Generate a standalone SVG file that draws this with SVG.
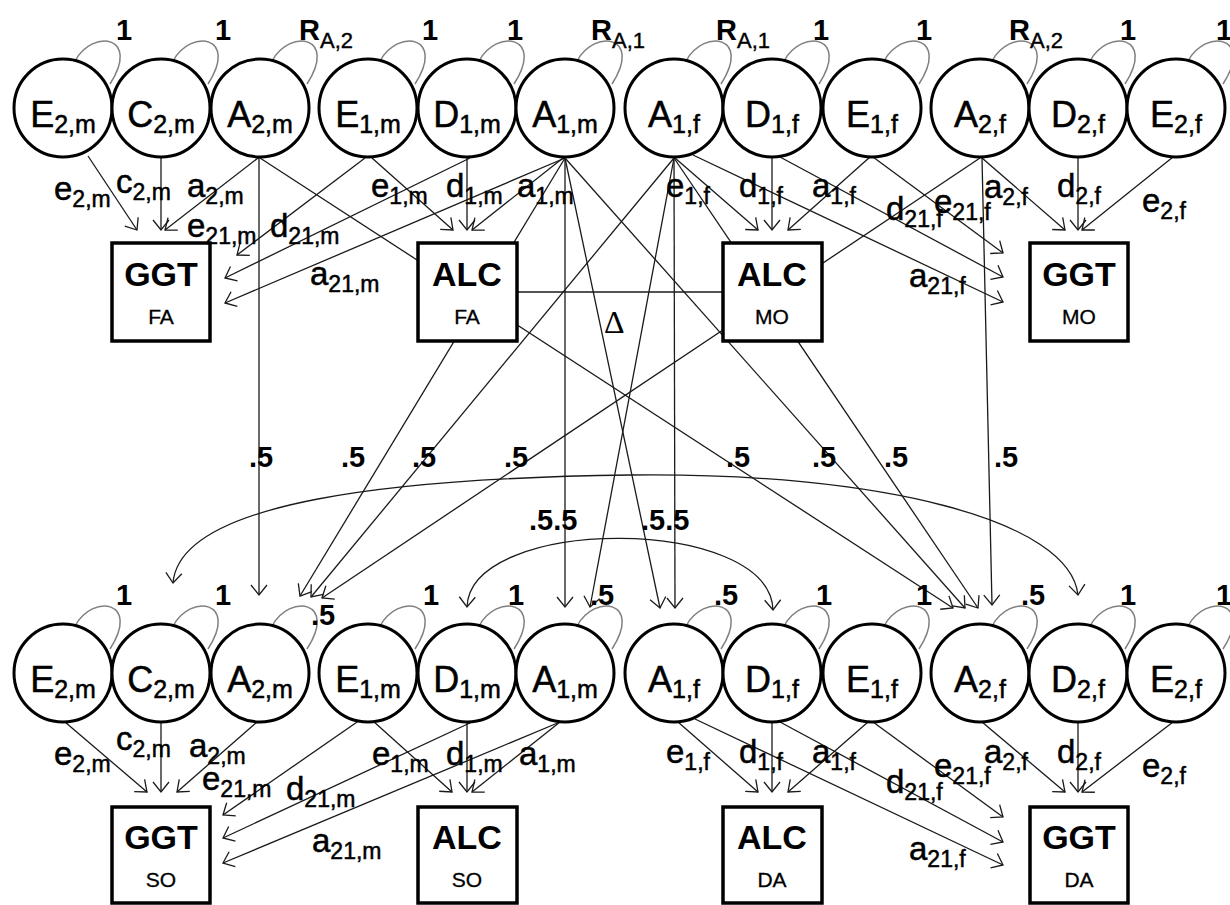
<svg xmlns="http://www.w3.org/2000/svg" xmlns:xlink="http://www.w3.org/1999/xlink" width="1230" height="905" viewBox="0 0 1230 905">
<style>
  .bg { fill: #ffffff; }
  .lat circle { fill: #ffffff; stroke: #000000; stroke-width: 3; }
  .obs rect { fill: #ffffff; stroke: #000000; stroke-width: 3.5; }
  .path { fill: none; stroke: #1a1a1a; stroke-width: 1.3; }
  .arr { marker-end: url(#head); }
  .loop { fill: none; stroke: #808080; stroke-width: 1.5; }
  text { font-family: "Liberation Sans", Arial, sans-serif; fill: #000000; }
  .nl { font-size: 36px; text-anchor: middle; stroke: #000000; stroke-width: 0.5; }
  .nl .s { font-size: 25px; }
  .bt { font-size: 34px; font-weight: bold; text-anchor: middle; }
  .bs { font-size: 21px; text-anchor: middle; stroke: #000000; stroke-width: 0.3; }
  .pl { font-size: 33px; stroke: #000000; stroke-width: 0.5; }
  .pl .s { font-size: 23px; }
  .vl { font-size: 29px; font-weight: bold; }
  .vl .s { font-size: 22px; font-weight: normal; stroke: #000000; stroke-width: 0.4; }
  .one { text-anchor: middle; }
  .delta { font-family: "Liberation Serif", "Times New Roman", serif; font-size: 32px; }
</style>
<defs>
  <marker id="head" markerUnits="userSpaceOnUse" markerWidth="14" markerHeight="18" refX="11" refY="9" orient="auto">
    <path d="M1,1 L11,9 L1,17" fill="none" stroke="#1a1a1a" stroke-width="1.3"/>
  </marker>
  <marker id="tail" markerUnits="userSpaceOnUse" markerWidth="14" markerHeight="18" refX="11" refY="9" orient="auto-start-reverse">
    <path d="M1,1 L11,9 L1,17" fill="none" stroke="#1a1a1a" stroke-width="1.3"/>
  </marker>
  <!-- variance loop drawn relative to the centre of a latent circle -->
  <path id="loop" d="M12,-47 C30,-80 78,-72 47,-24"/>
</defs>

<rect class="bg" x="0" y="0" width="1230" height="905"/>

<!-- variance loops -->
<g id="loops" class="loop">
  <use xlink:href="#loop" href="#loop" transform="translate(63,108)"/>
  <use xlink:href="#loop" href="#loop" transform="translate(161,108)"/>
  <use xlink:href="#loop" href="#loop" transform="translate(260,108)"/>
  <use xlink:href="#loop" href="#loop" transform="translate(368,108)"/>
  <use xlink:href="#loop" href="#loop" transform="translate(467,108)"/>
  <use xlink:href="#loop" href="#loop" transform="translate(565,108)"/>
  <use xlink:href="#loop" href="#loop" transform="translate(674,108)"/>
  <use xlink:href="#loop" href="#loop" transform="translate(772,108)"/>
  <use xlink:href="#loop" href="#loop" transform="translate(872,108)"/>
  <use xlink:href="#loop" href="#loop" transform="translate(980,108)"/>
  <use xlink:href="#loop" href="#loop" transform="translate(1078,108)"/>
  <use xlink:href="#loop" href="#loop" transform="translate(1176,108)"/>
  <use xlink:href="#loop" href="#loop" transform="translate(63,673)"/>
  <use xlink:href="#loop" href="#loop" transform="translate(161,673)"/>
  <use xlink:href="#loop" href="#loop" transform="translate(260,673)"/>
  <use xlink:href="#loop" href="#loop" transform="translate(368,673)"/>
  <use xlink:href="#loop" href="#loop" transform="translate(467,673)"/>
  <use xlink:href="#loop" href="#loop" transform="translate(565,673)"/>
  <use xlink:href="#loop" href="#loop" transform="translate(674,673)"/>
  <use xlink:href="#loop" href="#loop" transform="translate(772,673)"/>
  <use xlink:href="#loop" href="#loop" transform="translate(872,673)"/>
  <use xlink:href="#loop" href="#loop" transform="translate(980,673)"/>
  <use xlink:href="#loop" href="#loop" transform="translate(1078,673)"/>
  <use xlink:href="#loop" href="#loop" transform="translate(1176,673)"/>
</g>

<g id="connectors" class="path">
  <!-- parents: paths to the measured traits -->
  <path class="arr" d="M88,156 L137,230"/>
  <path class="arr" d="M161,157 L161,230"/>
  <path class="arr" d="M258,158 L165,230"/>
  <path class="arr" d="M365,158 L237,255"/>
  <path class="arr" d="M372,158 L453,230"/>
  <path class="arr" d="M470,158 L225,278"/>
  <path class="arr" d="M467,157 L467,230"/>
  <path class="arr" d="M565,158 L225,303"/>
  <path class="arr" d="M563,158 L472,230"/>
  <path class="arr" d="M675,158 L758,230"/>
  <path class="arr" d="M693,155 L1003,302"/>
  <path class="arr" d="M772,157 L772,230"/>
  <path class="arr" d="M780,157 L1003,277"/>
  <path class="arr" d="M870,157 L788,230"/>
  <path class="arr" d="M873,157 L1003,253"/>
  <path class="arr" d="M982,158 L1065,230"/>
  <path class="arr" d="M1078,157 L1078,230"/>
  <path class="arr" d="M1173,157 L1082,230"/>

  <!-- offspring: paths to the measured traits -->
  <path class="arr" d="M65,722 L147,792"/>
  <path class="arr" d="M161,722 L161,792"/>
  <path class="arr" d="M257,722 L177,792"/>
  <path class="arr" d="M360,720 L223,815"/>
  <path class="arr" d="M373,721 L452,792"/>
  <path class="arr" d="M472,722 L223,838"/>
  <path class="arr" d="M467,722 L467,792"/>
  <path class="arr" d="M560,722 L223,863"/>
  <path class="arr" d="M560,722 L472,792"/>
  <path class="arr" d="M678,722 L758,792"/>
  <path class="arr" d="M695,719 L1003,865"/>
  <path class="arr" d="M772,722 L772,792"/>
  <path class="arr" d="M780,722 L1003,842"/>
  <path class="arr" d="M868,722 L788,792"/>
  <path class="arr" d="M873,722 L1003,817"/>
  <path class="arr" d="M982,722 L1065,792"/>
  <path class="arr" d="M1078,722 L1078,792"/>
  <path class="arr" d="M1173,722 L1082,792"/>

  <!-- transmission from parents to offspring -->
  <path class="arr" d="M259,158 L259,595"/>
  <path class="arr" d="M260,158 L953,608"/>
  <path class="arr" d="M565,158 L300,596"/>
  <path class="arr" d="M565,158 L565,607"/>
  <path class="arr" d="M565,158 L660,608"/>
  <path class="arr" d="M565,158 L965,608"/>
  <path class="arr" d="M674,158 L311,597"/>
  <path class="arr" d="M674,158 L590,607"/>
  <path class="arr" d="M674,158 L675,608"/>
  <path class="arr" d="M674,158 L978,608"/>
  <path class="arr" d="M980,158 L322,598"/>
  <path class="arr" d="M982,158 L992,605"/>

  <!-- spousal link -->
  <path d="M517,292 L723,292"/>

  <!-- sibling covariances -->
  <path d="M173,583 C180,500 400,478 630,475 C880,472 1070,520 1078,595" marker-start="url(#tail)" marker-end="url(#head)"/>
  <path d="M467,607 C470,515 770,515 773,610" marker-start="url(#tail)" marker-end="url(#head)"/>
</g>

<!-- parents: latent factors -->
<g id="E2m-top" class="lat"><circle cx="63" cy="108" r="49"/><text class="nl" x="63" y="127">E<tspan class="s" dy="6">2,m</tspan></text></g>
<g id="C2m-top" class="lat"><circle cx="161" cy="108" r="49"/><text class="nl" x="161" y="127">C<tspan class="s" dy="6">2,m</tspan></text></g>
<g id="A2m-top" class="lat"><circle cx="260" cy="108" r="49"/><text class="nl" x="260" y="127">A<tspan class="s" dy="6">2,m</tspan></text></g>
<g id="E1m-top" class="lat"><circle cx="368" cy="108" r="49"/><text class="nl" x="368" y="127">E<tspan class="s" dy="6">1,m</tspan></text></g>
<g id="D1m-top" class="lat"><circle cx="467" cy="108" r="49"/><text class="nl" x="467" y="127">D<tspan class="s" dy="6">1,m</tspan></text></g>
<g id="A1m-top" class="lat"><circle cx="565" cy="108" r="49"/><text class="nl" x="565" y="127">A<tspan class="s" dy="6">1,m</tspan></text></g>
<g id="A1f-top" class="lat"><circle cx="674" cy="108" r="49"/><text class="nl" x="674" y="127">A<tspan class="s" dy="6">1,f</tspan></text></g>
<g id="D1f-top" class="lat"><circle cx="772" cy="108" r="49"/><text class="nl" x="772" y="127">D<tspan class="s" dy="6">1,f</tspan></text></g>
<g id="E1f-top" class="lat"><circle cx="872" cy="108" r="49"/><text class="nl" x="872" y="127">E<tspan class="s" dy="6">1,f</tspan></text></g>
<g id="A2f-top" class="lat"><circle cx="980" cy="108" r="49"/><text class="nl" x="980" y="127">A<tspan class="s" dy="6">2,f</tspan></text></g>
<g id="D2f-top" class="lat"><circle cx="1078" cy="108" r="49"/><text class="nl" x="1078" y="127">D<tspan class="s" dy="6">2,f</tspan></text></g>
<g id="E2f-top" class="lat"><circle cx="1176" cy="108" r="49"/><text class="nl" x="1176" y="127">E<tspan class="s" dy="6">2,f</tspan></text></g>

<!-- offspring: latent factors -->
<g id="E2m-bot" class="lat"><circle cx="63" cy="673" r="49"/><text class="nl" x="63" y="692">E<tspan class="s" dy="6">2,m</tspan></text></g>
<g id="C2m-bot" class="lat"><circle cx="161" cy="673" r="49"/><text class="nl" x="161" y="692">C<tspan class="s" dy="6">2,m</tspan></text></g>
<g id="A2m-bot" class="lat"><circle cx="260" cy="673" r="49"/><text class="nl" x="260" y="692">A<tspan class="s" dy="6">2,m</tspan></text></g>
<g id="E1m-bot" class="lat"><circle cx="368" cy="673" r="49"/><text class="nl" x="368" y="692">E<tspan class="s" dy="6">1,m</tspan></text></g>
<g id="D1m-bot" class="lat"><circle cx="467" cy="673" r="49"/><text class="nl" x="467" y="692">D<tspan class="s" dy="6">1,m</tspan></text></g>
<g id="A1m-bot" class="lat"><circle cx="565" cy="673" r="49"/><text class="nl" x="565" y="692">A<tspan class="s" dy="6">1,m</tspan></text></g>
<g id="A1f-bot" class="lat"><circle cx="674" cy="673" r="49"/><text class="nl" x="674" y="692">A<tspan class="s" dy="6">1,f</tspan></text></g>
<g id="D1f-bot" class="lat"><circle cx="772" cy="673" r="49"/><text class="nl" x="772" y="692">D<tspan class="s" dy="6">1,f</tspan></text></g>
<g id="E1f-bot" class="lat"><circle cx="872" cy="673" r="49"/><text class="nl" x="872" y="692">E<tspan class="s" dy="6">1,f</tspan></text></g>
<g id="A2f-bot" class="lat"><circle cx="980" cy="673" r="49"/><text class="nl" x="980" y="692">A<tspan class="s" dy="6">2,f</tspan></text></g>
<g id="D2f-bot" class="lat"><circle cx="1078" cy="673" r="49"/><text class="nl" x="1078" y="692">D<tspan class="s" dy="6">2,f</tspan></text></g>
<g id="E2f-bot" class="lat"><circle cx="1176" cy="673" r="49"/><text class="nl" x="1176" y="692">E<tspan class="s" dy="6">2,f</tspan></text></g>

<!-- measured traits -->
<g id="GGT-FA" class="obs"><rect x="112" y="243" width="98" height="98"/><text class="bt" x="161" y="286">GGT</text><text class="bs" x="161" y="324">FA</text></g>
<g id="ALC-FA" class="obs"><rect x="418" y="243" width="99" height="98"/><text class="bt" x="467" y="286">ALC</text><text class="bs" x="467" y="324">FA</text></g>
<g id="ALC-MO" class="obs"><rect x="723" y="243" width="99" height="98"/><text class="bt" x="772" y="286">ALC</text><text class="bs" x="772" y="324">MO</text></g>
<g id="GGT-MO" class="obs"><rect x="1030" y="243" width="98" height="98"/><text class="bt" x="1079" y="286">GGT</text><text class="bs" x="1079" y="324">MO</text></g>
<g id="GGT-SO" class="obs"><rect x="112" y="807" width="98" height="96"/><text class="bt" x="161" y="849">GGT</text><text class="bs" x="161" y="887">SO</text></g>
<g id="ALC-SO" class="obs"><rect x="418" y="807" width="99" height="96"/><text class="bt" x="467" y="849">ALC</text><text class="bs" x="467" y="887">SO</text></g>
<g id="ALC-DA" class="obs"><rect x="723" y="807" width="99" height="96"/><text class="bt" x="772" y="849">ALC</text><text class="bs" x="772" y="887">DA</text></g>
<g id="GGT-DA" class="obs"><rect x="1030" y="807" width="98" height="96"/><text class="bt" x="1079" y="849">GGT</text><text class="bs" x="1079" y="887">DA</text></g>

<!-- variance labels -->
<g id="variance-labels">
  <text class="vl one" x="124" y="40">1</text>
  <text class="vl one" x="223" y="40">1</text>
  <text class="vl" x="299" y="40">R<tspan class="s" dy="8">A,2</tspan></text>
  <text class="vl one" x="430" y="40">1</text>
  <text class="vl one" x="515" y="40">1</text>
  <text class="vl" x="591" y="40">R<tspan class="s" dy="8">A,1</tspan></text>
  <text class="vl" x="716" y="40">R<tspan class="s" dy="8">A,1</tspan></text>
  <text class="vl one" x="821" y="40">1</text>
  <text class="vl one" x="924" y="40">1</text>
  <text class="vl" x="1009" y="40">R<tspan class="s" dy="8">A,2</tspan></text>
  <text class="vl one" x="1128" y="40">1</text>
  <text class="vl one" x="1224" y="40">1</text>

  <text class="vl one" x="124" y="605">1</text>
  <text class="vl one" x="223" y="605">1</text>
  <text class="vl" x="311" y="625">.5</text>
  <text class="vl one" x="431" y="605">1</text>
  <text class="vl one" x="516" y="605">1</text>
  <text class="vl" x="590" y="605">.5</text>
  <text class="vl" x="714" y="605">.5</text>
  <text class="vl one" x="824" y="605">1</text>
  <text class="vl one" x="924" y="605">1</text>
  <text class="vl" x="1021" y="605">.5</text>
  <text class="vl one" x="1128" y="605">1</text>
  <text class="vl one" x="1224" y="605">1</text>
</g>

<!-- transmission labels -->
<g id="transmission-labels">
  <text class="vl" x="249" y="467">.5</text>
  <text class="vl" x="341" y="467">.5</text>
  <text class="vl" x="412" y="467">.5</text>
  <text class="vl" x="504" y="467">.5</text>
  <text class="vl" x="726" y="467">.5</text>
  <text class="vl" x="812" y="467">.5</text>
  <text class="vl" x="884" y="467">.5</text>
  <text class="vl" x="994" y="467">.5</text>
  <text class="vl" x="529" y="530">.5.5</text>
  <text class="vl" x="641" y="530">.5.5</text>
  <text class="delta" x="604" y="333">Δ</text>
</g>

<!-- path coefficient labels -->
<g id="path-labels">
  <text class="pl" x="54" y="200">e<tspan class="s" dy="7">2,m</tspan></text>
  <text class="pl" x="116" y="193">c<tspan class="s" dy="7">2,m</tspan></text>
  <text class="pl" x="187" y="197">a<tspan class="s" dy="7">2,m</tspan></text>
  <text class="pl" x="187" y="237">e<tspan class="s" dy="7">21,m</tspan></text>
  <text class="pl" x="270" y="237">d<tspan class="s" dy="7">21,m</tspan></text>
  <text class="pl" x="310" y="285">a<tspan class="s" dy="7">21,m</tspan></text>
  <text class="pl" x="371" y="197">e<tspan class="s" dy="7">1,m</tspan></text>
  <text class="pl" x="446" y="197">d<tspan class="s" dy="7">1,m</tspan></text>
  <text class="pl" x="517" y="197">a<tspan class="s" dy="7">1,m</tspan></text>
  <text class="pl" x="666" y="197">e<tspan class="s" dy="7">1,f</tspan></text>
  <text class="pl" x="739" y="197">d<tspan class="s" dy="7">1,f</tspan></text>
  <text class="pl" x="812" y="197">a<tspan class="s" dy="7">1,f</tspan></text>
  <text class="pl" x="886" y="220">d<tspan class="s" dy="7">21,f</tspan></text>
  <text class="pl" x="934" y="213">e<tspan class="s" dy="7">21,f</tspan></text>
  <text class="pl" x="984" y="198">a<tspan class="s" dy="7">2,f</tspan></text>
  <text class="pl" x="1057" y="197">d<tspan class="s" dy="7">2,f</tspan></text>
  <text class="pl" x="1142" y="212">e<tspan class="s" dy="7">2,f</tspan></text>
  <text class="pl" x="909" y="287">a<tspan class="s" dy="7">21,f</tspan></text>

  <text class="pl" x="54" y="765">e<tspan class="s" dy="7">2,m</tspan></text>
  <text class="pl" x="116" y="750">c<tspan class="s" dy="7">2,m</tspan></text>
  <text class="pl" x="189" y="757">a<tspan class="s" dy="7">2,m</tspan></text>
  <text class="pl" x="202" y="790">e<tspan class="s" dy="7">21,m</tspan></text>
  <text class="pl" x="286" y="800">d<tspan class="s" dy="7">21,m</tspan></text>
  <text class="pl" x="312" y="852">a<tspan class="s" dy="7">21,m</tspan></text>
  <text class="pl" x="372" y="765">e<tspan class="s" dy="7">1,m</tspan></text>
  <text class="pl" x="446" y="765">d<tspan class="s" dy="7">1,m</tspan></text>
  <text class="pl" x="519" y="765">a<tspan class="s" dy="7">1,m</tspan></text>
  <text class="pl" x="666" y="763">e<tspan class="s" dy="7">1,f</tspan></text>
  <text class="pl" x="739" y="763">d<tspan class="s" dy="7">1,f</tspan></text>
  <text class="pl" x="812" y="763">a<tspan class="s" dy="7">1,f</tspan></text>
  <text class="pl" x="886" y="793">d<tspan class="s" dy="7">21,f</tspan></text>
  <text class="pl" x="934" y="777">e<tspan class="s" dy="7">21,f</tspan></text>
  <text class="pl" x="984" y="763">a<tspan class="s" dy="7">2,f</tspan></text>
  <text class="pl" x="1057" y="763">d<tspan class="s" dy="7">2,f</tspan></text>
  <text class="pl" x="1142" y="777">e<tspan class="s" dy="7">2,f</tspan></text>
  <text class="pl" x="909" y="860">a<tspan class="s" dy="7">21,f</tspan></text>
</g>
</svg>
